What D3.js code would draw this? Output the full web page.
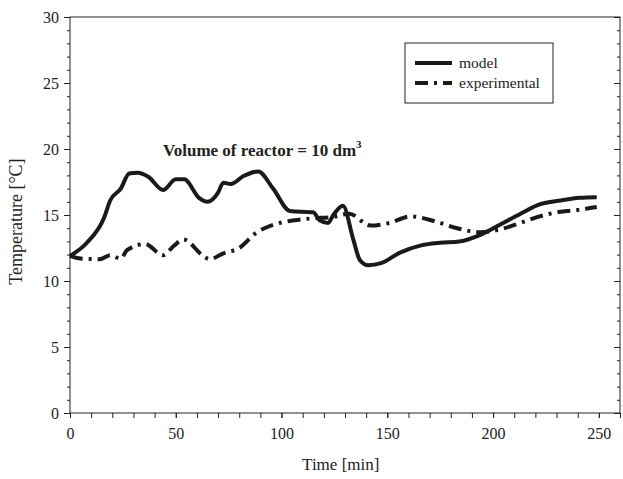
<!DOCTYPE html>
<html>
<head>
<meta charset="utf-8">
<script src="https://cdn.jsdelivr.net/npm/d3@7"></script>
<style>
  body { margin: 0; background: #fff; }
  svg text { font-family: "Liberation Serif", "Times New Roman", serif; fill: #222; }
</style>
</head>
<body>
<div id="chart"></div>
<script>
// time [min] and temperature [°C]
var modelTime = [0, 8, 16, 19, 24, 28, 32, 37, 44, 50, 54, 61, 65, 70, 72.5, 76, 82, 89, 96, 104, 115, 118, 122, 124.5, 129, 134, 137, 141, 147, 156, 166, 175, 184, 194, 203, 213, 222, 232, 241, 249];
var modelTemp = [11.9, 12.9, 14.75, 16.1, 17.0, 18.15, 18.2, 17.9, 16.9, 17.7, 17.7, 16.3, 16.0, 16.7, 17.45, 17.35, 17.95, 18.3, 17.0, 15.3, 15.2, 14.6, 14.4, 15.0, 15.7, 13.1, 11.6, 11.2, 11.35, 12.15, 12.7, 12.9, 13.0, 13.5, 14.25, 15.1, 15.8, 16.1, 16.3, 16.35];

var expTime = [0, 5, 14, 19, 24, 27, 35.5, 44, 49, 53.6, 63, 66, 72.5, 80, 88, 96, 106, 115, 124, 132, 142, 151, 161, 172, 183, 194, 203, 213, 222, 232, 241, 249];
var expTemp = [11.9, 11.7, 11.65, 11.95, 11.7, 12.35, 12.8, 11.95, 12.65, 13.15, 11.9, 11.65, 12.1, 12.5, 13.65, 14.25, 14.6, 14.75, 14.85, 15.1, 14.2, 14.4, 14.9, 14.55, 14.0, 13.7, 13.9, 14.4, 14.9, 15.25, 15.4, 15.6];

var xTicks = [0, 50, 100, 150, 200, 250];
var yTicks = [0, 5, 10, 15, 20, 25, 30];
var seriesNames = ["model", "experimental"];

var W = 623, H = 479;
var margin = {left: 70, right: 3, top: 17, bottom: 66};
var iw = W - margin.left - margin.right, ih = H - margin.top - margin.bottom;

var svg = d3.select("#chart").append("svg").attr("width", W).attr("height", H);
var g = svg.append("g").attr("transform", "translate(" + margin.left + "," + margin.top + ")");

var x = d3.scaleLinear().domain([0, 260]).range([0, iw]);
var y = d3.scaleLinear().domain([0, 30]).range([ih, 0]);

// frame
g.append("rect").attr("width", iw).attr("height", ih)
  .attr("fill", "none").attr("stroke", "#222").attr("stroke-width", 1);

// bottom axis: major + minor ticks
var xMinor = d3.range(0, 261, 10);
g.append("g").attr("transform", "translate(0," + ih + ")")
  .call(d3.axisBottom(x).tickValues(xMinor).tickSize(5).tickFormat(""))
  .call(function(a) { a.select(".domain").remove(); });
g.append("g").attr("transform", "translate(0," + ih + ")")
  .call(d3.axisBottom(x).tickValues(xTicks).tickSize(5).tickPadding(10).tickFormat(d3.format("d")))
  .call(function(a) { a.select(".domain").remove(); a.selectAll("text").style("font-size", "16px"); });

// left axis
var yMinor = d3.range(0, 31, 1);
g.append("g")
  .call(d3.axisLeft(y).tickValues(yMinor).tickSize(3).tickFormat(""))
  .call(function(a) { a.select(".domain").remove(); });
g.append("g")
  .call(d3.axisLeft(y).tickValues(yTicks).tickSize(6).tickPadding(5))
  .call(function(a) { a.select(".domain").remove(); a.selectAll("text").style("font-size", "16px"); });

// right side ticks, pointing inward
g.append("g").attr("transform", "translate(" + iw + ",0)")
  .call(d3.axisLeft(y).tickValues(yMinor).tickSize(3).tickFormat(""))
  .call(function(a) { a.select(".domain").remove(); });
g.append("g").attr("transform", "translate(" + iw + ",0)")
  .call(d3.axisLeft(y).tickValues(yTicks).tickSize(6).tickFormat(""))
  .call(function(a) { a.select(".domain").remove(); });

g.selectAll(".tick line").attr("stroke", "#222");

// lines
var model = modelTime.map(function(t, i) { return [t, modelTemp[i]]; });
var exp = expTime.map(function(t, i) { return [t, expTemp[i]]; });

var line = d3.line().x(function(d) { return x(d[0]); }).y(function(d) { return y(d[1]); })
  .curve(d3.curveMonotoneX);

g.append("path").datum(exp).attr("d", line)
  .attr("fill", "none").attr("stroke", "#1a1a1a").attr("stroke-width", 4)
  .attr("stroke-dasharray", "13,6,3,6").attr("stroke-linejoin", "round");
g.append("path").datum(model).attr("d", line)
  .attr("fill", "none").attr("stroke", "#1a1a1a").attr("stroke-width", 4)
  .attr("stroke-linejoin", "round");

// title inside plot
var title = g.append("text").attr("x", 93).attr("y", 139)
  .style("font-weight", "bold").style("font-size", "17px");
title.append("tspan").text("Volume of reactor = 10 dm");
title.append("tspan").text("3").attr("dy", -8).style("font-size", "11px");

// legend
var lg = g.append("g").attr("transform", "translate(335,26)");
lg.append("rect").attr("width", 148).attr("height", 60)
  .attr("fill", "#fff").attr("stroke", "#222").attr("stroke-width", 1);
var dashes = [null, "13,6,3,6"];
seriesNames.forEach(function(name, i) {
  var yy = 20 + i * 20;
  lg.append("line").attr("x1", 10).attr("x2", 47).attr("y1", yy).attr("y2", yy)
    .attr("stroke", "#1a1a1a").attr("stroke-width", 4)
    .attr("stroke-dasharray", dashes[i]);
  lg.append("text").attr("x", 54).attr("y", yy + 5).style("font-size", "15.5px").text(name);
});

// axis titles
svg.append("text").attr("x", margin.left + x(128)).attr("y", 470)
  .attr("text-anchor", "middle").style("font-size", "17px").text("Time [min]");
svg.append("text").attr("transform", "translate(22," + (margin.top + y(14.5)) + ") rotate(-90)")
  .attr("text-anchor", "middle").style("font-size", "18px").text("Temperature [°C]");
</script>
</body>
</html>
